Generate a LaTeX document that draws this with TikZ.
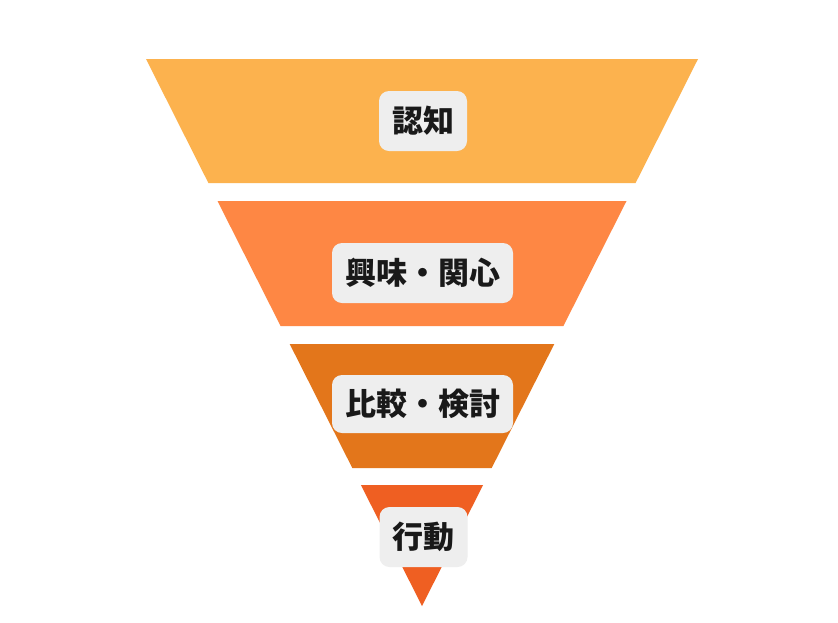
\documentclass[tikz,border=0pt]{standalone}
\usepackage{fontspec}
\newfontfamily\jpfont{Noto Sans CJK JP}
\usetikzlibrary{calc}
\definecolor{stageA}{HTML}{FCB24E}
\definecolor{stageB}{HTML}{FE8744}
\definecolor{stageC}{HTML}{E3761B}
\definecolor{stageD}{HTML}{EF5F22}
\definecolor{tagfill}{HTML}{EEEEEE}
\tikzstyle{band}=[draw=none]
\tikzstyle{tag}=[rectangle,
                 fill=tagfill,
                 rounded corners=10pt,
                 minimum height=60pt,
                 inner xsep=13pt,
                 text=black!90,
                 font=\jpfont\bfseries\fontsize{31}{31}\selectfont]
\begin{document}
\begin{tikzpicture}[x=1pt,y=-1pt]
      \useasboundingbox[fill=white] (0,0) rectangle (838,622);

      % funnel bands, centre x=422, apex at y=606
      \fill[band, stageA] (146,59) -- (698,59) -- (635.6,183) -- (208.4,183) -- cycle;
      \fill[band, stageB] (217.5,201) -- (626.5,201) -- (563.4,326) -- (280.6,326) -- cycle;
      \fill[band, stageC] (289.7,344) -- (554.3,344) -- (491.7,468) -- (352.3,468) -- cycle;
      \fill[band, stageD] (360.9,485) -- (483.1,485) -- (422,606) -- cycle;

      \node[tag] (aware)    at (423,121)   {認知};
      \node[tag] (interest) at (422.5,273) {興味・関心};
      \node[tag, minimum height=58pt] (compare) at (422.5,404) {比較・検討};
      \node[tag] (action)   at (423.5,537) {行動};
\end{tikzpicture}
\end{document}
